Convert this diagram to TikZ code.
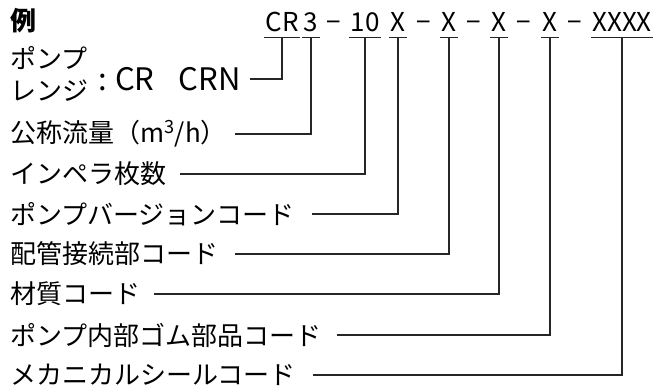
\documentclass[tikz,border=0pt]{standalone}
\usepackage{fontspec}
\setmainfont{Noto Sans CJK JP}
\usetikzlibrary{positioning}

\begin{document}
\begin{tikzpicture}[
            x=1pt, y=-1pt,
            lbl/.style={anchor=west, inner sep=0pt, font=\fontsize{26}{28}\selectfont},
            code/.style={anchor=base, inner xsep=1.5pt, inner ysep=0pt, text depth=5pt, font=\fontsize{26}{27}\selectfont},
            dsh/.style={anchor=base, inner sep=0pt, font=\fontsize{26}{27}\selectfont},
            conn/.style={-, line width=1.2pt, black!85}
        ]
            \useasboundingbox (0,0) rectangle (657,387);
            \node[lbl, font=\fontsize{26}{27}\selectfont\bfseries](ex) at (10,21){例};

            % code pieces along the top
            \node[code](cr) at (282,32){CR};
            \node[code](n3) at (311,32){3};
            \node[dsh](d1) at (334,32){−};
            \node[code](n10) at (365,32){10};
            \node[code](x1) at (398,32){X};
            \node[dsh](d2) at (424,32){−};
            \node[code](x2) at (449,32){X};
            \node[dsh](d3) at (474,32){−};
            \node[code](x3) at (499,32){X};
            \node[dsh](d4) at (524,32){−};
            \node[code](x4) at (550,32){X};
            \node[dsh](d5) at (575,32){−};
            \node[code](xxxx) at (622,32){XXXX};

            % labels on the left
            \node[lbl, align=left](rng) at (10,74){ポンプ\\[4pt]レンジ};
            \node[lbl, font=\fontsize{31}{32}\selectfont](rngc)[right=10pt of rng, yshift=-5pt]{:\hspace{8pt}CR\hspace{24pt}CRN};
            \node[lbl](flow) at (10,134){公称流量（m\textsuperscript{3}/h）};
            \node[lbl](imp) at (10,174){インペラ枚数};
            \node[lbl](ver) at (10,214){ポンプバージョンコード};
            \node[lbl](pipe) at (10,254){配管接続部コード};
            \node[lbl](mat) at (10,294){材質コード};
            \node[lbl](rub) at (10,335){ポンプ内部ゴム部品コード};
            \node[lbl](seal) at (10,375){メカニカルシールコード};

            \foreach \c in {cr,n3,n10,x1,x2,x3,x4,xxxx}
                \draw[conn] (\c.south west) -- (\c.south east);

            \draw[conn] ([xshift=9pt]rngc.east) -| (cr.south);
            \draw[conn] ([xshift=8pt]flow.east) -| (n3.south);
            \draw[conn] ([xshift=14pt]imp.east) -| (n10.south);
            \draw[conn] ([xshift=17pt]ver.east) -| (x1.south);
            \draw[conn] ([xshift=17pt]pipe.east) -| (x2.south);
            \draw[conn] ([xshift=14pt]mat.east) -| (x3.south);
            \draw[conn] ([xshift=15pt]rub.east) -| (x4.south);
            \draw[conn] ([xshift=17pt]seal.east) -| (xxxx.south);
        \end{tikzpicture}
\end{document}
